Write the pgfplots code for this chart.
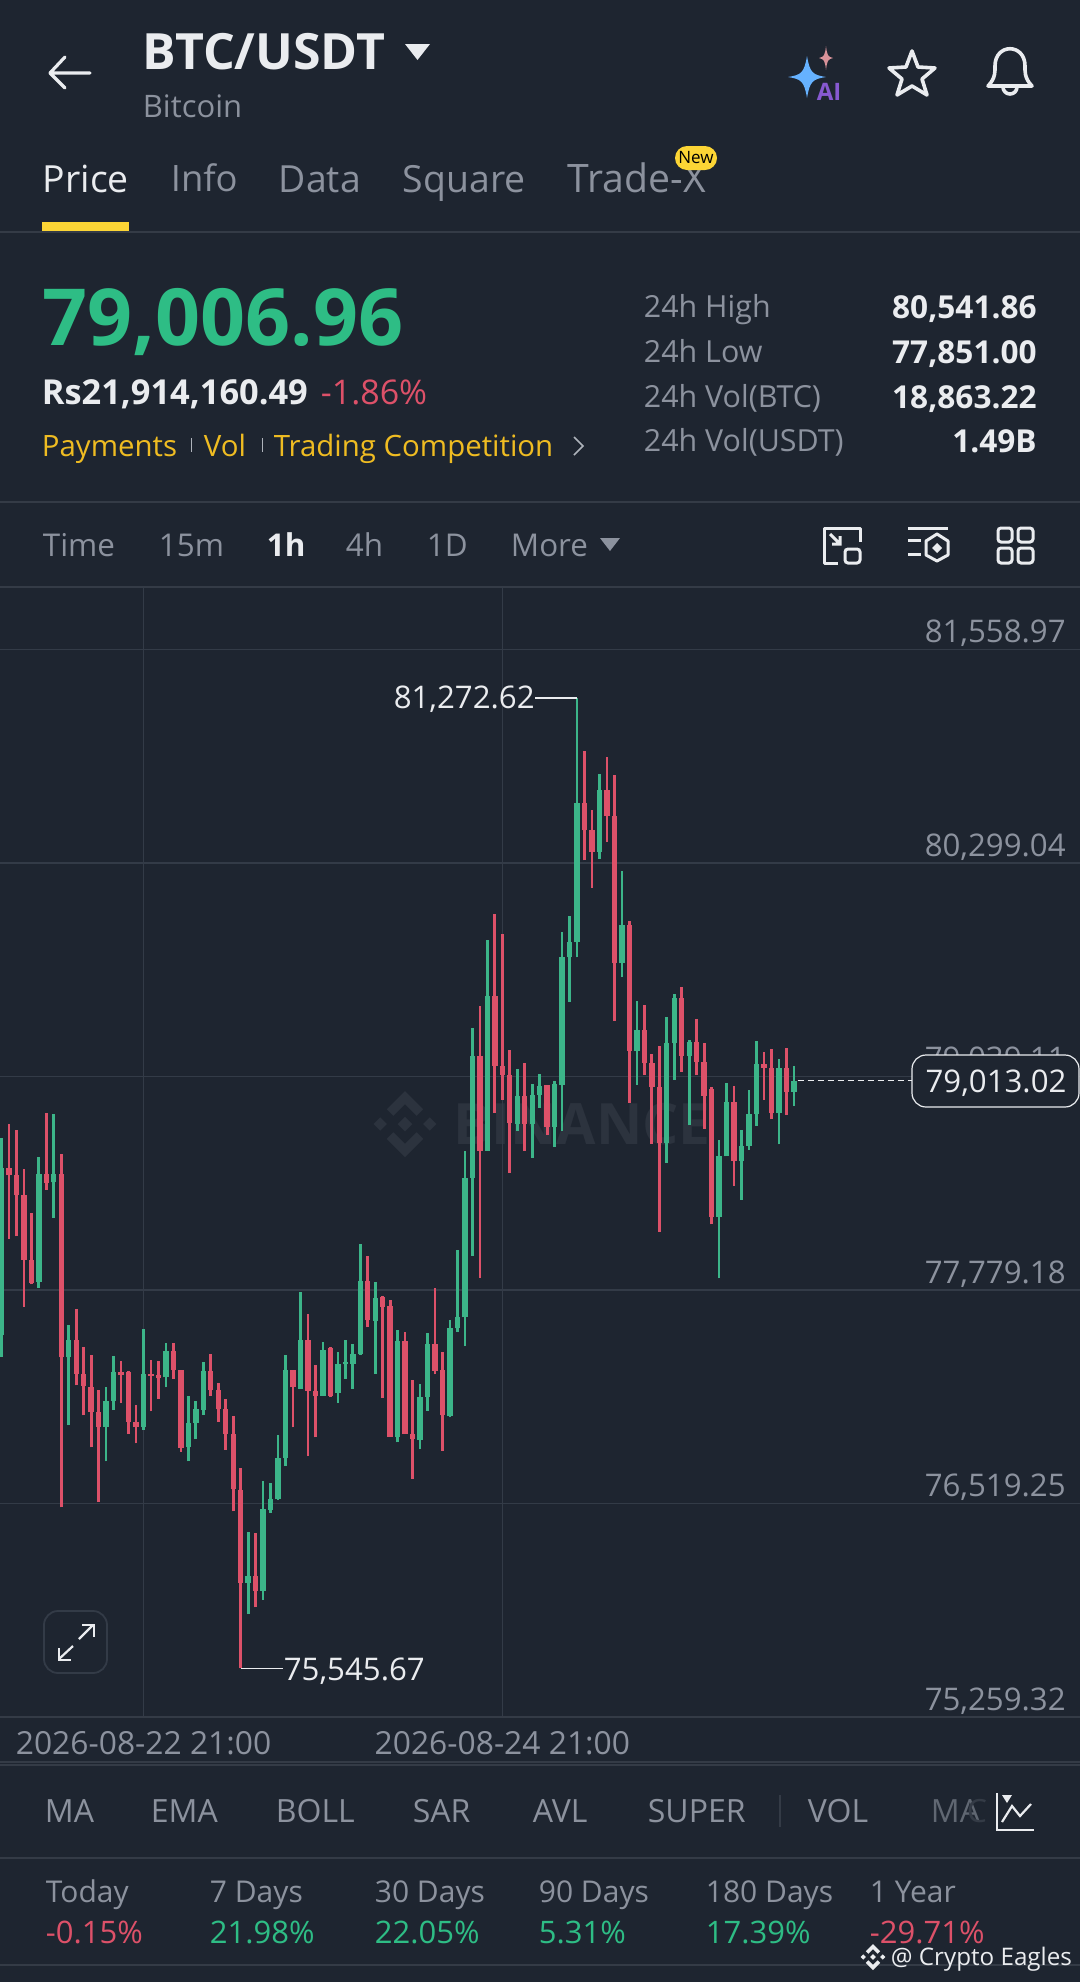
\documentclass[border=0pt]{standalone}
\usepackage{fontspec}
\setmainfont{Open Sans}
\usepackage{pgfplots}
\usepackage{pgfplotstable}
\pgfplotsset{compat=1.18}
\definecolor{bg}{HTML}{1E2530}
\definecolor{gridc}{HTML}{333B47}
\definecolor{sepc}{HTML}{343B46}
\definecolor{grn}{HTML}{3CB589}
\definecolor{rd}{HTML}{DD5169}
\definecolor{bigg}{HTML}{2EBD85}
\definecolor{grey}{HTML}{8C929E}
\definecolor{wht}{HTML}{EAECEF}
\definecolor{yel}{HTML}{EFBC22}
\definecolor{ylw}{HTML}{FCD535}
\definecolor{wm}{HTML}{2C333E}
\pgfplotstableread{
i open high low close
0 77512 78678 77385 78501
5 77827 78564 77793 78465
7 78414 78819 78206 78465
9 77381 77571 76982 77483
14 76972 77204 76768 77125
15 77125 77389 77070 77296
19 76972 77548 76952 77286
22 77263 77467 77204 77420
25 76854 77153 76768 76996
26 76996 77123 76897 77074
27 77070 77357 77043 77302
33 76049 76353 75868 76092
35 76005 76650 75950 76485
36 76481 76638 76465 76548
37 76544 76923 76540 76785
38 76785 77398 76740 77310
40 77196 77766 77192 77487
43 77155 77473 77153 77428
45 77174 77414 77114 77340
46 77340 77487 77255 77357
47 77341 77459 77196 77400
48 77400 78053 77397 77833
50 77597 77829 77286 77732
53 76913 77546 76880 77477
56 76894 77224 76838 77149
57 77149 77526 77068 77459
60 77035 77601 77027 77552
61 77552 78017 77532 77617
62 77617 78600 77448 78441
63 78441 79327 77980 79159
65 78600 79842 78600 79513
69 78758 79085 78716 78926
71 78758 78996 78560 78931
72 78931 79052 78856 78984
74 78740 79015 78623 78996
75 78991 79889 78716 79742
76 79742 79987 79481 79830
77 79830 81272.62 79742 80651
80 80366 80823 80325 80732
83 79707 80250 79625 79933
85 79189 79485 78991 79311
89 78646 79388 78530 79234
90 79234 79523 79019 79504
92 79159 79257 78751 79241
96 78210 78662 77848 78568
97 78568 79000 78568 78886
99 78540 78721 78312 78630
100 78630 78961 78607 78815
101 78815 79251 78748 79110
104 78823 79143 78638 79090
106 78949 79098 78866 79013.02
}\upT
\pgfplotstableread{
i open high low close
1 78501 78760 78080 78456
2 78456 78721 78096 78338
3 78338 78495 77679 77955
4 77955 78234 77813 77821
6 78465 78825 78371 78410
8 78465 78583 76497 77381
10 77483 77668 77216 77286
11 77286 77444 77039 77212
12 77208 77393 76850 77059
13 77059 77188 76528 76972
16 77296 77361 77114 77277
17 77296 77302 76929 77002
18 77002 77100 76874 76972
20 77286 77369 77063 77271
21 77277 77359 77137 77257
23 77420 77467 77255 77310
24 77310 77310 76825 76846
28 77302 77400 77153 77188
29 77188 77231 77002 77074
30 77074 77133 76835 76929
31 76929 77035 76473 76603
32 76599 76730 75545.67 76053
34 76092 76343 75907 76005
39 77310 77310 76968 77204
41 77487 77640 76799 77184
42 77184 77336 76909 77155
44 77436 77444 77145 77153
49 77833 77978 77558 77601
51 77738 77742 77141 77679
52 77687 77719 76913 76913
54 77477 77532 76929 76929
55 76929 77247 76664 76897
58 77463 77788 77281 77302
59 77306 77412 76831 77039
64 79159 79453 77849 78600
66 79513 79998 78826 79101
67 79101 79879 78903 79047
68 79047 79196 78469 78763
70 78926 79117 78600 78758
73 78987 78987 78693 78740
78 80651 80958 80315 80492
79 80492 80609 80152 80366
81 80732 80926 80422 80576
82 80576 80821 79369 79707
84 79933 79956 78884 79189
86 79311 79462 79047 79117
87 79117 79171 78642 78977
88 78977 79220 78122 78646
91 79504 79567 79066 79159
93 79241 79381 79047 79126
94 79126 79234 78728 78926
95 78964 78976 78167 78210
98 78886 78980 78395 78540
102 79110 79183 78900 79090
103 79090 79200 78786 78823
105 79090 79206 78813 78949
}\downT
% px helpers: 1px = .5pt; the y given is the centre of the capitals
\newcommand{\F}[1]{\fontsize{#1}{#1}\selectfont}
\newcommand{\TL}[5]{\node[anchor=base west,inner sep=0pt,text=#4,font=\F{#3}] at (#1-1.5,#2+0.71*#3) {#5};}
\newcommand{\TR}[5]{\node[anchor=base east,inner sep=0pt,text=#4,font=\F{#3}] at (#1,#2+0.71*#3) {#5};}
\newcommand{\spark}[5]{\fill[#5] (#1,#2-#4) .. controls (#1+.15*#3,#2-.2*#4) and (#1+.3*#3,#2-.1*#4) .. (#1+#3,#2) .. controls (#1+.3*#3,#2+.1*#4) and (#1+.15*#3,#2+.2*#4) .. (#1,#2+#4) .. controls (#1-.15*#3,#2+.2*#4) and (#1-.3*#3,#2+.1*#4) .. (#1-#3,#2) .. controls (#1-.3*#3,#2-.1*#4) and (#1-.15*#3,#2-.2*#4) .. cycle;}
\newcommand{\blogo}[4]{\begin{scope}[shift={(#1,#2)},scale=#3]
\fill[#4] (0,-1)--(.55,-.45)--(.35,-.25)--(0,-.6)--(-.35,-.25)--(-.55,-.45)--cycle;
\fill[#4] (0,1)--(.55,.45)--(.35,.25)--(0,.6)--(-.35,.25)--(-.55,.45)--cycle;
\fill[#4] (.75,-.2)--(.95,0)--(.75,.2)--(.55,0)--cycle;
\fill[#4] (-.75,-.2)--(-.95,0)--(-.75,.2)--(-.55,0)--cycle;
\fill[#4] (0,-.22)--(.22,0)--(0,.22)--(-.22,0)--cycle;
\end{scope}}
\begin{document}
\begin{tikzpicture}[x=0.5pt,y=-0.5pt]
\useasboundingbox (0,0) rectangle (1080,1982);
\fill[bg] (0,0) rectangle (1080,1982);
% header
\draw[wht,line width=1.6pt,line cap=round,line join=round] (65,57)--(50,73)--(65,88) (50,73)--(90,73);
\TL{144}{52}{25}{wht}{\bfseries BTC/USDT}
\fill[wht] (405,44)--(430,44)--(417.5,60)--cycle;
\TL{144}{106}{15.5}{grey}{Bitcoin}
\spark{807}{77}{19}{21}{blue!50!cyan!60!white}
\spark{826}{58}{7}{12}{orange!45!violet!55!white}
\node[anchor=center,inner sep=0pt,font=\F{12}\bfseries,text=blue!45!violet!65!white] at (829,92) {AI};
% star
\draw[wht,line width=1.8pt,line join=round] (912,51)--(918,67)--(935,68)--(922,79)--(927,95)--(912,86)--(897,95)--(902,79)--(889,68)--(906,67)--cycle;
% bell
\draw[wht,line width=1.8pt,line join=round] (988,86) .. controls (996,78) and (995,70) .. (995,66) .. controls (995,43) and (1025,43) .. (1025,66) .. controls (1025,70) and (1024,78) .. (1032,86) -- cycle;
\draw[wht,line width=1.8pt] (1003,87) arc[start angle=180,end angle=0,radius=7];
% tabs
\TL{44}{179}{18.7}{wht}{Price}
\TL{172}{179}{18.2}{grey}{Info}
\TL{280}{179}{18.7}{grey}{Data}
\TL{404}{179}{18.7}{grey}{Square}
\TL{569}{179}{19.6}{grey}{Trade-X}
\fill[ylw,rounded corners=6pt] (675,146) rectangle (717,170);
\node[inner sep=0pt,font=\F{8.5},text=black] at (696,158) {New};
\fill[ylw] (42,222) rectangle (129,231);
\draw[sepc,line width=.6pt] (0,232)--(1080,232);
% price block
\TL{44}{318}{39.4}{bigg}{\bfseries 79,006.96}
\TL{43}{392}{17.2}{wht}{\bfseries Rs21,914,160.49}
\TL{322}{392}{17}{rd}{-1.86\%}
\TL{43}{446}{14.7}{yel}{Payments}
\TL{205}{446}{14.7}{yel}{Vol}
\TL{275}{446}{14.7}{yel}{Trading Competition}
\draw[grey!70,line width=.5pt] (191,438)--(191,452) (262,438)--(262,452);
\draw[grey!70,line width=.8pt] (574,437)--(583,446)--(574,455);
\TL{645}{307}{15.2}{grey}{24h High}
\TL{645}{352}{15.2}{grey}{24h Low}
\TL{645}{397}{15.2}{grey}{24h Vol(BTC)}
\TL{645}{441}{15.2}{grey}{24h Vol(USDT)}
\TR{1037}{307}{15.8}{wht}{\bfseries 80,541.86}
\TR{1037}{352}{15.8}{wht}{\bfseries 77,851.00}
\TR{1037}{397}{15.8}{wht}{\bfseries 18,863.22}
\TR{1037}{441}{15.8}{wht}{\bfseries 1.49B}
\draw[sepc,line width=.6pt] (0,502)--(1080,502);
% interval row
\TL{44}{545}{15.7}{grey}{Time}
\TL{160}{545}{15.7}{grey}{15m}
\TL{268}{545}{15.7}{wht}{\bfseries 1h}
\TL{347}{545}{15.7}{grey}{4h}
\TL{428}{545}{15.7}{grey}{1D}
\TL{512}{545}{15.7}{grey}{More}
\fill[grey] (600,538)--(620,538)--(610,551)--cycle;
% icons
\draw[wht,line width=1.5pt,line join=round] (860,542)--(860,528)--(824,528)--(824,563)--(838,563);
\draw[wht,line width=1.5pt,rounded corners=1.5pt] (845,549) rectangle (860,563);
\draw[wht,line width=1.5pt] (830,534)--(840,544) (832,544)--(840,544)--(840,536);
\draw[wht,line width=1.5pt] (908,528)--(948,528) (908,540)--(921,540) (908,554)--(921,554);
\draw[wht,line width=1.5pt,line join=round] (937,534)--(948,541)--(948,555)--(937,561)--(926,555)--(926,541)--cycle;
\fill[wht] (937,543)--(942,548)--(937,553)--(932,548)--cycle;
\draw[wht,line width=1.5pt,rounded corners=1.5pt] (998,528) rectangle (1012,542) (1018,528) rectangle (1033,542) (998,548) rectangle (1012,563) (1018,548) rectangle (1033,563);
\draw[sepc,line width=.6pt] (0,587)--(1080,587);
% watermark
\blogo{405}{1124}{33}{wm}
\node[anchor=west,inner sep=0pt,font=\F{28.5}\bfseries,text=wm] at (453,1124) {BINANCE};
% chart
\begin{axis}[
  at={(0pt,-858.5pt)},anchor=south west,scale only axis,width=540pt,height=565pt,
  xmin=-0.197,xmax=144.28,ymin=75259.32,ymax=81927.4,
  scaled y ticks=false,scaled x ticks=false,
  axis line style={draw=none},
  major tick length=0pt,
  xtick={19,67},xticklabels={2026-08-22 21:00,2026-08-24 21:00},
  ytick={75259.32,76519.25,77779.18,79039.11,80299.04,81558.97},
  yticklabels={{75,259.32},{76,519.25},{77,779.18},{79,039.11},{80,299.04},{81,558.97}},
  yticklabel pos=right,
  yticklabel style={anchor=south east,xshift=-7pt,yshift=1.2pt,text=grey,font=\F{15.6},inner sep=0pt},
  xticklabel style={text=grey,font=\F{15.9},inner sep=0pt,yshift=-7pt},
  grid=major,grid style={draw=gridc,line width=.6pt},
  clip=true,
]
\addplot[draw=none,no markers,forget plot,error bars/.cd,y dir=plus,y explicit,error mark=none,error bar style={draw=grn,line width=1.35pt}]
 table[x=i,y=low,y error plus expr=\thisrow{high}-\thisrow{low}] {\upT};
\addplot[draw=none,no markers,forget plot,error bars/.cd,y dir=plus,y explicit,error mark=none,error bar style={draw=grn,line width=2.7pt}]
 table[x=i,y=open,y error plus expr=\thisrow{close}-\thisrow{open}] {\upT};
\addplot[draw=none,no markers,forget plot,error bars/.cd,y dir=plus,y explicit,error mark=none,error bar style={draw=rd,line width=1.35pt}]
 table[x=i,y=low,y error plus expr=\thisrow{high}-\thisrow{low}] {\downT};
\addplot[draw=none,no markers,forget plot,error bars/.cd,y dir=plus,y explicit,error mark=none,error bar style={draw=rd,line width=2.7pt}]
 table[x=i,y=close,y error plus expr=\thisrow{open}-\thisrow{close}] {\downT};
% high/low annotations
\addplot[wht,line width=.6pt,forget plot] coordinates {(77,81272.62)(71.4,81272.62)} node[anchor=east,inner sep=0pt,text=wht,font=\F{15.6},pos=1,yshift=-.5pt] {81,272.62};
\addplot[wht,line width=.6pt,forget plot] coordinates {(32,75545.67)(37.7,75545.67)} node[anchor=west,inner sep=0pt,text=wht,font=\F{15.6},pos=1,yshift=-1.5pt] {75,545.67};
\addplot[wht,line width=.6pt,dash pattern=on 3pt off 2pt,forget plot] coordinates {(106.5,79013.02)(122,79013.02)};
\end{axis}
% pill
\draw[wht,line width=.6pt,fill=bg,rounded corners=7pt] (912,1055) rectangle (1079,1107);
\node[inner sep=0pt,text=wht,font=\F{15.6}] at (996,1083) {79,013.02};
% expand
\draw[gridc,line width=.9pt,rounded corners=7pt] (44,1611) rectangle (107,1673);
\draw[wht,line width=1.1pt] (59,1659)--(73,1646) (79,1639)--(93,1625);
\draw[wht,line width=1.1pt] (59,1648)--(59,1660)--(71,1660) (82,1625)--(94,1625)--(94,1637);
% bottom
\draw[sepc,line width=.6pt] (0,1717)--(1080,1717);
\draw[sepc,line width=.6pt] (0,1762)--(1080,1762) (0,1765)--(1080,1765);
\TL{46}{1811}{16}{grey}{MA}
\TL{152}{1811}{16}{grey}{EMA}
\TL{277}{1811}{16}{grey}{BOLL}
\TL{414}{1811}{16}{grey}{SAR}
\TL{534}{1811}{16}{grey}{AVL}
\TL{649}{1811}{16}{grey}{SUPER}
\draw[sepc,line width=.6pt] (780,1795)--(780,1827);
\TL{809}{1811}{16}{grey}{VOL}
\TL{932}{1811}{16}{grey!60!bg}{MA}
\TL{968}{1811}{16}{grey!20!bg}{C}
\draw[wht,line width=1.1pt] (997,1793)--(997,1830)--(1034,1830);
\draw[wht,line width=1.1pt] (1002,1822)--(1012,1806)--(1020,1816)--(1031,1804);
\fill[wht] (1002,1795)--(1012,1795)--(1007,1803)--cycle;
\draw[sepc,line width=.6pt] (0,1858)--(1080,1858);
\TL{47}{1892}{15}{grey}{Today}
\TL{211}{1892}{15}{grey}{7 Days}
\TL{376}{1892}{15}{grey}{30 Days}
\TL{540}{1892}{15}{grey}{90 Days}
\TL{707}{1892}{15}{grey}{180 Days}
\TL{871}{1892}{15}{grey}{1 Year}
\TL{47}{1932}{15.5}{rd}{-0.15\%}
\TL{211}{1932}{15.5}{bigg}{21.98\%}
\TL{376}{1932}{15.5}{bigg}{22.05\%}
\TL{540}{1932}{15.5}{bigg}{5.31\%}
\TL{707}{1932}{15.5}{bigg}{17.39\%}
\TL{871}{1932}{15.5}{rd}{-29.71\%}
\draw[sepc,line width=.6pt] (0,1965)--(1080,1965);
\blogo{873}{1957}{13}{wht}
\TL{892}{1957}{12.1}{wht}{@ Crypto Eagles}
\end{tikzpicture}
\end{document}
